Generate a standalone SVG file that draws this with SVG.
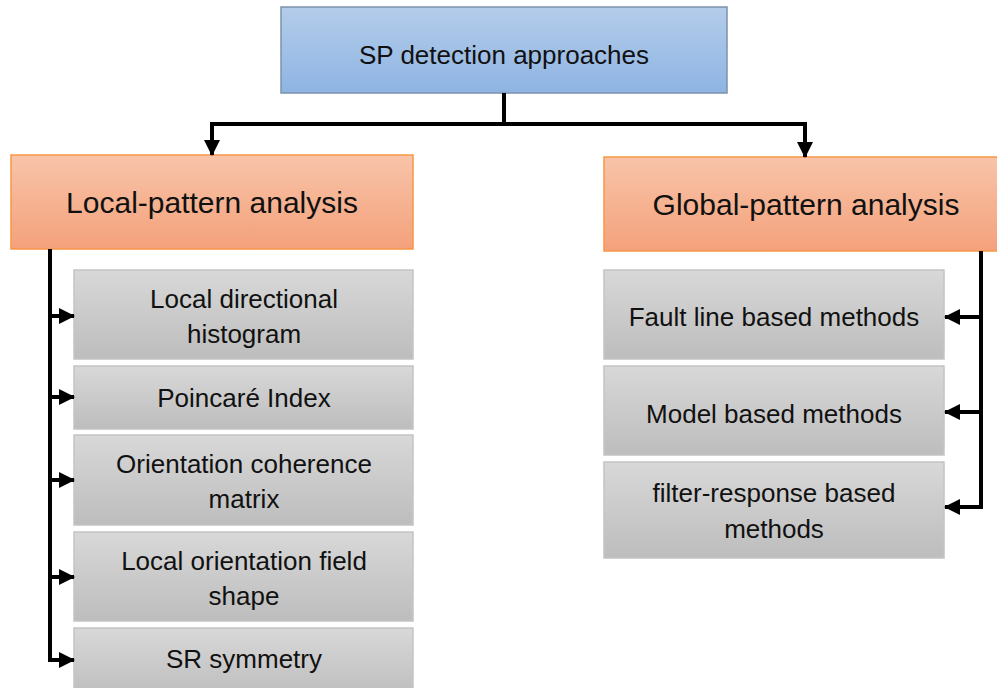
<svg xmlns="http://www.w3.org/2000/svg" width="997" height="688" viewBox="0 0 997 688">
<defs>
<linearGradient id="gBlue" x1="0" y1="0" x2="0" y2="1"><stop offset="0" stop-color="#B4CDEA"/><stop offset="1" stop-color="#8EB4E3"/></linearGradient>
<linearGradient id="gOrange" x1="0" y1="0" x2="0" y2="1"><stop offset="0" stop-color="#F8C4A9"/><stop offset="1" stop-color="#F4A17B"/></linearGradient>
<linearGradient id="gGrey" x1="0" y1="0" x2="0" y2="1"><stop offset="0" stop-color="#D8D8D8"/><stop offset="1" stop-color="#BDBDBD"/></linearGradient>
<marker id="ah" markerUnits="userSpaceOnUse" markerWidth="16" markerHeight="16" viewBox="0 0 16 16" refX="15" refY="8" orient="auto"><path d="M0,0 L16,8 L0,16 z" fill="#000"/></marker>
</defs>
<style>
text{font-family:"Liberation Sans",Arial,sans-serif;fill:#111;text-anchor:middle}
.t{font-size:26px}
.o{font-size:30px}
.blue{fill:url(#gBlue);stroke:#7E92AC;stroke-width:1.5}
.orange{fill:url(#gOrange);stroke:#F79646;stroke-width:1.5}
.grey{fill:url(#gGrey);stroke:#C4C4C4;stroke-width:1.5}
.c{fill:none;stroke:#000;stroke-width:4}
.a{marker-end:url(#ah)}
</style>
<rect width="997" height="688" fill="#fff"/>
<g id="root"><rect class="blue" x="281" y="7" width="446" height="86"/><text class="t" x="504" y="64">SP detection approaches</text></g>
<g id="local"><rect class="orange" x="11" y="155" width="402" height="94"/><text class="o" x="212" y="213">Local-pattern analysis</text></g>
<g id="global"><rect class="orange" x="604" y="157" width="404" height="94"/><text class="o" x="806" y="215">Global-pattern analysis</text></g>
<g id="l1"><rect class="grey" x="74" y="270" width="339" height="89"/><text class="t" x="244" y="308">Local directional</text><text class="t" x="244" y="343">histogram</text></g>
<g id="l2"><rect class="grey" x="74" y="366" width="339" height="63"/><text class="t" x="244" y="407">Poincaré Index</text></g>
<g id="l3"><rect class="grey" x="74" y="435" width="339" height="90"/><text class="t" x="244" y="473">Orientation coherence</text><text class="t" x="244" y="508">matrix</text></g>
<g id="l4"><rect class="grey" x="74" y="532" width="339" height="89"/><text class="t" x="244" y="570">Local orientation field</text><text class="t" x="244" y="605">shape</text></g>
<g id="l5"><rect class="grey" x="74" y="628" width="339" height="70"/><text class="t" x="244" y="668">SR symmetry</text></g>
<g id="g1"><rect class="grey" x="604" y="270" width="340" height="89"/><text class="t" x="774" y="326">Fault line based methods</text></g>
<g id="g2"><rect class="grey" x="604" y="366" width="340" height="89"/><text class="t" x="774" y="423">Model based methods</text></g>
<g id="g3"><rect class="grey" x="604" y="462" width="340" height="96"/><text class="t" x="774" y="502">filter-response based</text><text class="t" x="774" y="538">methods</text></g>
<g id="connectors">
<path class="c" d="M504,93 V124 H212 V141"/><path class="c a" d="M212,138 V155"/>
<path class="c" d="M504,124 H805 V143"/><path class="c a" d="M805,140 V157"/>
<path class="c" d="M50,249 V660 H60"/>
<path class="c a" d="M50,316 H74"/>
<path class="c a" d="M50,397 H74"/>
<path class="c a" d="M50,480 H74"/>
<path class="c a" d="M50,577 H74"/>
<path class="c a" d="M56,660 H74"/>
<path class="c" d="M981,251 V507 H960"/>
<path class="c a" d="M981,317 H945"/>
<path class="c a" d="M981,412 H945"/>
<path class="c a" d="M964,507 H945"/>
</g>
</svg>
